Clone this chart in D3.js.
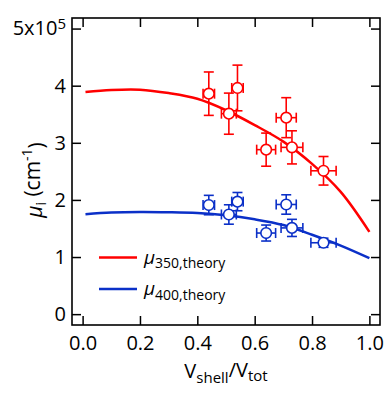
<!DOCTYPE html>
<html>
<head>
<meta charset="utf-8">
<script src="https://cdn.jsdelivr.net/npm/d3@7"></script>
<style>
  body { margin: 0; background: #fff; }
  text { font-family: "Open Sans", sans-serif; fill: #000; }
</style>
</head>
<body>
<div class="chart"></div>
<script>
// theory curves (values in units of 1e5 cm^-1)
var theoryX = [0.01, 0.1, 0.2, 0.3, 0.4, 0.5, 0.6, 0.7, 0.8, 0.9, 1.0];
var mu350Theory = [3.89, 3.925, 3.93, 3.87, 3.77, 3.57, 3.31, 3.02, 2.63, 2.14, 1.44];
var mu400Theory = [1.75, 1.78, 1.79, 1.785, 1.77, 1.73, 1.66, 1.56, 1.39, 1.20, 0.98];

// measured points
var expX = [0.44, 0.54, 0.51, 0.71, 0.64, 0.73, 0.84];
var expXErr = [0.02, 0.02, 0.026, 0.035, 0.033, 0.038, 0.044];
var mu350 = [3.86, 3.96, 3.51, 3.44, 2.88, 2.92, 2.51];
var mu350Err = [0.38, 0.40, 0.36, 0.35, 0.29, 0.29, 0.25];
var mu400 = [1.91, 1.97, 1.745, 1.92, 1.42, 1.51, 1.25];
var mu400Err = [0.17, 0.16, 0.17, 0.17, 0.14, 0.15, 0.08];

var xTicks = [0, 0.2, 0.4, 0.6, 0.8, 1.0];
var yTicks = [0, 1, 2, 3, 4, 5];

var red = "#ff0000";
var blue = "#0b30c8";

var svgWidth = 385, svgHeight = 394;
var margin = {left: 72, top: 18, right: 5, bottom: 69};
var width = svgWidth - margin.left - margin.right;
var height = svgHeight - margin.top - margin.bottom;

var svg = d3.select(".chart").append("svg")
  .attr("width", svgWidth)
  .attr("height", svgHeight);

var chart = svg.append("g")
  .attr("transform", "translate(" + margin.left + "," + margin.top + ")");

var x = d3.scaleLinear().domain([-0.037, 1.037]).range([0, width]);
var y = d3.scaleLinear().domain([-0.19, 5.185]).range([height, 0]);

// axes, ticks pointing inward
var bottomAxis = chart.append("g")
  .attr("transform", "translate(0," + height + ")")
  .call(d3.axisBottom(x).tickValues(xTicks).tickSize(-9).tickPadding(11)
    .tickFormat(d3.format(".1f")));
var topAxis = chart.append("g")
  .call(d3.axisTop(x).tickValues(xTicks).tickSize(-9).tickFormat(""));
var leftAxis = chart.append("g")
  .call(d3.axisLeft(y).tickValues(yTicks).tickSize(-9).tickPadding(6)
    .tickFormat(d3.format("d")));
var rightAxis = chart.append("g")
  .attr("transform", "translate(" + width + ",0)")
  .call(d3.axisRight(y).tickValues(yTicks).tickSize(-9).tickFormat(""));

[bottomAxis, topAxis, leftAxis, rightAxis].forEach(function(a) {
  a.select(".domain").remove();
  a.selectAll("line").attr("stroke", "#000").attr("stroke-width", 1.5);
  a.selectAll("text").style("font-family", "'Open Sans', sans-serif")
    .style("font-size", "20px").attr("fill", "#000");
});

// the "5" tick reads 5x10^5
leftAxis.selectAll(".tick text").filter(function(d) { return d === 5; })
  .each(function() {
    var t = d3.select(this).text("");
    t.append("tspan").text("5x10");
    t.append("tspan").attr("dy", "-0.45em").style("font-size", "15px").text("5");
  });

chart.append("rect")
  .attr("width", width)
  .attr("height", height)
  .attr("fill", "none")
  .attr("stroke", "#000")
  .attr("stroke-width", 1.6);

// theory lines
var line = d3.line()
  .x(function(d) { return x(d[0]); })
  .y(function(d) { return y(d[1]); })
  .curve(d3.curveCatmullRom);

chart.append("path")
  .attr("d", line(d3.zip(theoryX, mu350Theory)))
  .attr("fill", "none").attr("stroke", red).attr("stroke-width", 2.5);
chart.append("path")
  .attr("d", line(d3.zip(theoryX, mu400Theory)))
  .attr("fill", "none").attr("stroke", blue).attr("stroke-width", 2.5);

// error bars + markers
function drawPoints(vals, errs, color) {
  var g = chart.append("g").attr("stroke", color).attr("stroke-width", 1.6);
  var cap = 5;
  expX.forEach(function(xv, i) {
    var cx = x(xv), cy = y(vals[i]);
    var y0 = y(vals[i] - errs[i]), y1 = y(vals[i] + errs[i]);
    var x0 = x(xv - expXErr[i]), x1 = x(xv + expXErr[i]);
    g.append("line").attr("x1", cx).attr("x2", cx).attr("y1", y0).attr("y2", y1);
    g.append("line").attr("x1", cx - cap).attr("x2", cx + cap).attr("y1", y0).attr("y2", y0);
    g.append("line").attr("x1", cx - cap).attr("x2", cx + cap).attr("y1", y1).attr("y2", y1);
    g.append("line").attr("x1", x0).attr("x2", x1).attr("y1", cy).attr("y2", cy);
    g.append("line").attr("x1", x0).attr("x2", x0).attr("y1", cy - cap).attr("y2", cy + cap);
    g.append("line").attr("x1", x1).attr("x2", x1).attr("y1", cy - cap).attr("y2", cy + cap);
  });
  g.selectAll("circle")
    .data(vals)
    .enter().append("circle")
      .attr("cx", function(d, i) { return x(expX[i]); })
      .attr("cy", function(d) { return y(d); })
      .attr("r", 5.3)
      .attr("fill", "#fff");
}
drawPoints(mu350, mu350Err, red);
drawPoints(mu400, mu400Err, blue);

// legend
var legend = [
  {label: "350,theory", color: red, ty: 257.5},
  {label: "400,theory", color: blue, ty: 289}
];
legend.forEach(function(l) {
  svg.append("line")
    .attr("x1", 99).attr("x2", 137)
    .attr("y1", l.ty).attr("y2", l.ty)
    .attr("stroke", l.color).attr("stroke-width", 2.5);
  var t = svg.append("text")
    .attr("x", 144).attr("y", l.ty + 6)
    .style("font-size", "19px");
  t.append("tspan").style("font-style", "italic").text("\u03bc");
  t.append("tspan").attr("dy", "0.35em").style("font-size", "14px").text(l.label);
});

// axis titles
var xt = svg.append("text")
  .attr("x", 226).attr("y", 378)
  .attr("text-anchor", "middle")
  .style("font-size", "20px");
xt.append("tspan").text("V");
xt.append("tspan").attr("dy", "0.3em").style("font-size", "15px").text("shell");
xt.append("tspan").attr("dy", "-0.3em").text("/V");
xt.append("tspan").attr("dy", "0.3em").style("font-size", "15px").text("tot");

var yt = svg.append("text")
  .attr("transform", "translate(42,180) rotate(-90)")
  .attr("text-anchor", "middle")
  .style("font-size", "21px");
yt.append("tspan").style("font-style", "italic").text("\u03bc");
yt.append("tspan").attr("dy", "0.3em").style("font-size", "14px").text("i");
yt.append("tspan").attr("dy", "-0.3em").text(" (cm");
yt.append("tspan").attr("dy", "-0.55em").style("font-size", "14px").text("-1");
yt.append("tspan").attr("dy", "0.55em").text(")");
</script>
</body>
</html>
